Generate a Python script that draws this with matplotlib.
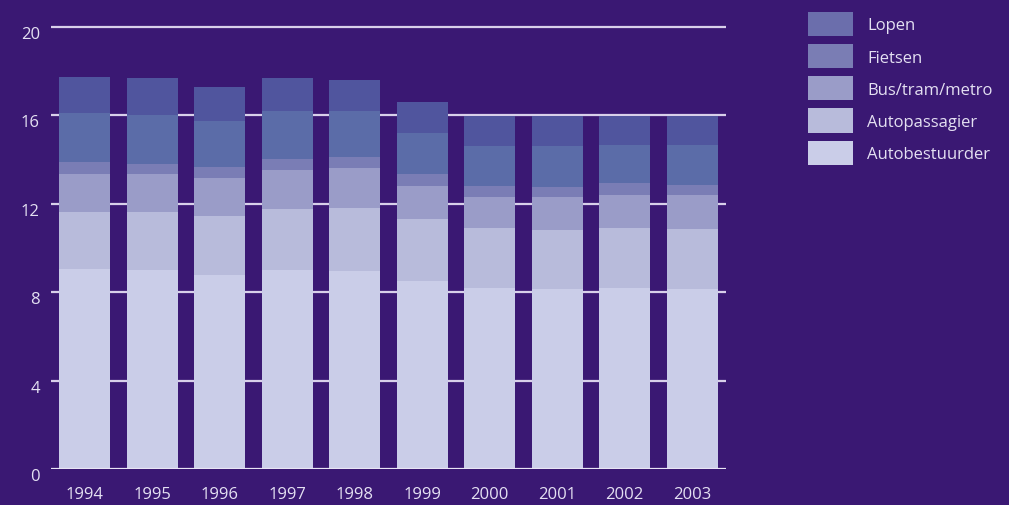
import matplotlib
matplotlib.use("Agg")
import matplotlib.pyplot as plt
import matplotlib.transforms as mtransforms
from matplotlib.patches import Patch
import numpy as np

plt.rcParams["font.family"] = ["Open Sans", "DejaVu Sans"]

years = ["1994", "1995", "1996", "1997", "1998", "1999", "2000", "2001", "2002", "2003"]

# stacked segments, bottom to top
autobestuurder = [9.05, 9.00, 8.78, 9.00, 8.96, 8.51, 8.19, 8.14, 8.19, 8.14]
autopassagier = [2.58, 2.63, 2.67, 2.76, 2.85, 2.80, 2.71, 2.67, 2.71, 2.72]
bus_tram_metro = [1.72, 1.72, 1.72, 1.77, 1.81, 1.50, 1.41, 1.50, 1.50, 1.54]
fietsen = [0.54, 0.45, 0.50, 0.50, 0.50, 0.54, 0.50, 0.45, 0.54, 0.45]
trein = [2.22, 2.22, 2.08, 2.17, 2.08, 1.85, 1.81, 1.86, 1.72, 1.81]
lopen = [1.63, 1.67, 1.54, 1.49, 1.40, 1.41, 1.35, 1.35, 1.31, 1.31]

segments = [autobestuurder, autopassagier, bus_tram_metro, fietsen, trein, lopen]
seg_colors = ["#CACDE8", "#B8BBDB", "#9A9CC8", "#7A7DB5", "#5B6CA8", "#50559E"]

legend_labels = ["Lopen", "Fietsen", "Bus/tram/metro", "Autopassagier", "Autobestuurder"]
legend_colors = ["#6B6EAC", "#7A7DB4", "#9A9CC8", "#B8BBDB", "#CACDE8"]

bg = "#3A1873"
txt = "#E4E0F2"

W, H = 1009, 506
fig = plt.figure(figsize=(W / 100, H / 100), dpi=100, facecolor=bg)
ax = fig.add_axes([51 / W, 36 / H, 675 / W, 20.2 * 22.1 / H], facecolor=bg)

x = np.arange(len(years))
bottom = np.zeros(len(years))
for vals, c in zip(segments, seg_colors):
    ax.bar(x, vals, bottom=bottom, width=0.755, color=c, zorder=3)
    bottom += np.array(vals)

ax.set_xlim(-0.5, 9.5)
ax.set_ylim(0, 20.2)
ax.set_yticks([0, 4, 8, 12, 16, 20])
for yv in [4, 8, 12, 16, 20]:
    ax.axhline(yv, color="#D8D0EA", lw=1.6, zorder=1)
ax.axhline(0, color="#E8E4F4", lw=1.6, zorder=4)

for s in ax.spines.values():
    s.set_visible(False)
ax.tick_params(axis="both", length=0, colors=txt, labelsize=12)
ax.tick_params(axis="y", pad=8)
ax.tick_params(axis="x", pad=12)
ax.set_xticks(x)
ax.set_xticklabels(years)

# y labels sit a little below their gridlines
shift = mtransforms.ScaledTranslation(0, -5 / 100, fig.dpi_scale_trans)
for lbl in ax.get_yticklabels():
    lbl.set_transform(lbl.get_transform() + shift)

handles = [Patch(facecolor=c, edgecolor="none") for c in legend_colors]
leg = fig.legend(handles, legend_labels, loc="upper left",
                 bbox_to_anchor=(808 / W, 1 - 13 / H), frameon=False,
                 fontsize=12, handlelength=2.7, handleheight=1.85,
                 labelspacing=0.48, handletextpad=0.85, borderpad=0,
                 borderaxespad=0)
for t in leg.get_texts():
    t.set_color(txt)

fig.savefig("out.png", dpi=100, facecolor=bg)
